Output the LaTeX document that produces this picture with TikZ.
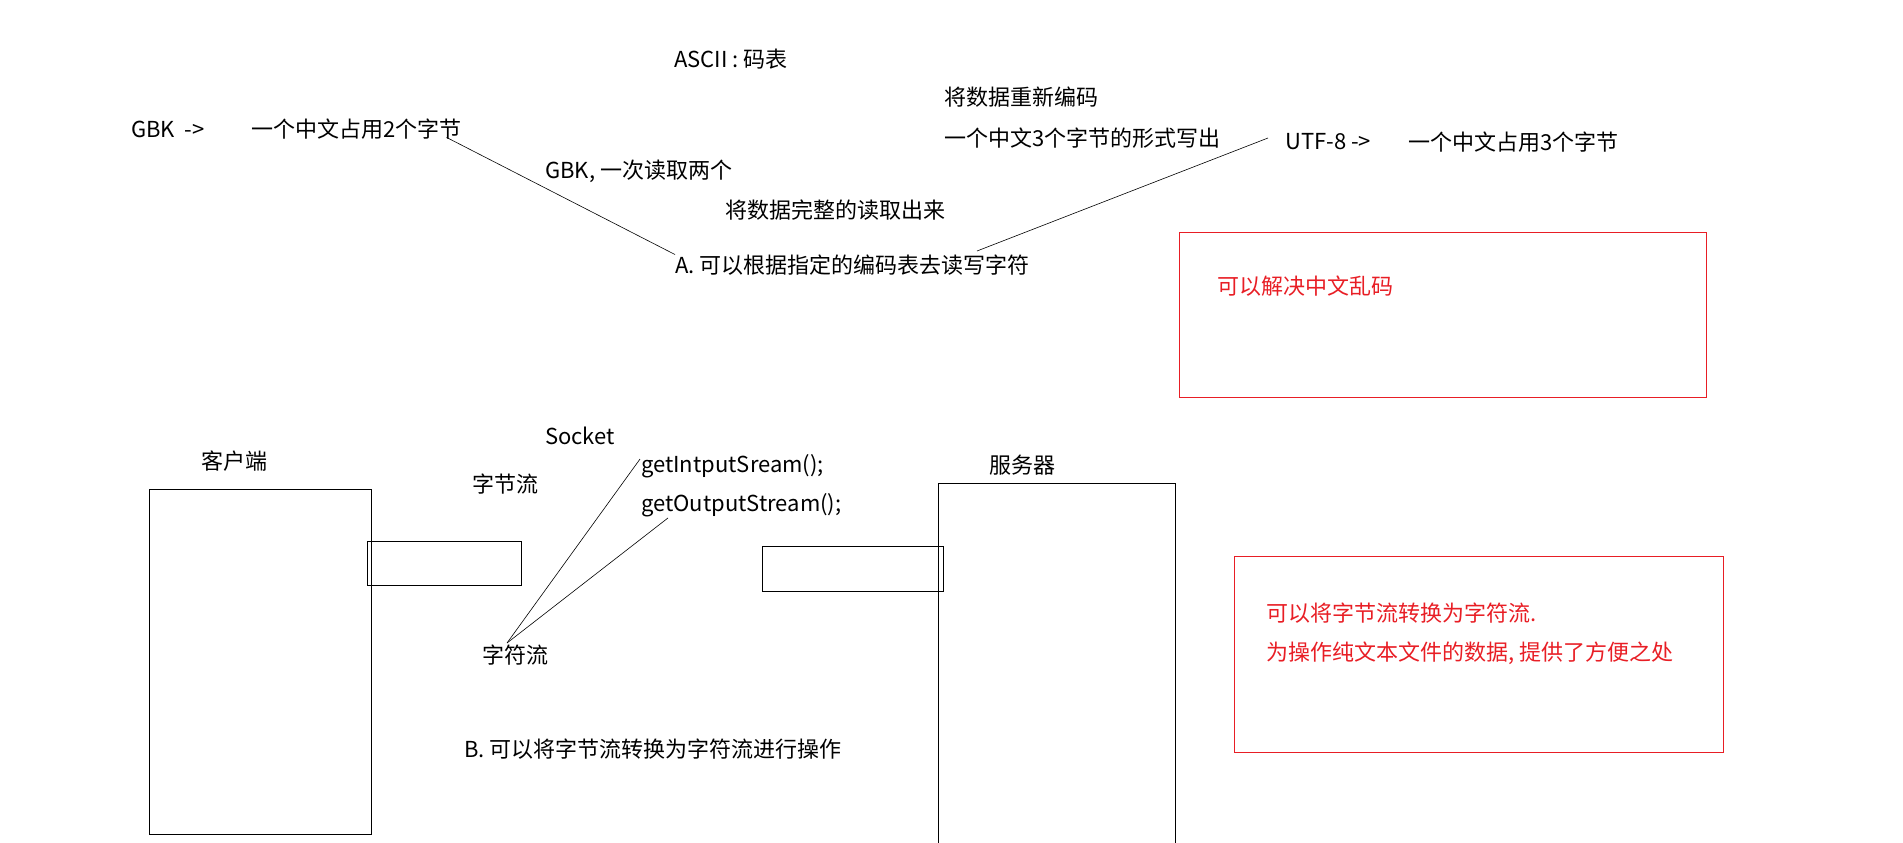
\documentclass[tikz,border=0pt]{standalone}
\usepackage{fontspec}
\usepackage{xcolor}
\usepackage{tikz}
\usetikzlibrary{positioning, calc}
\newfontfamily\cjk{Noto Sans CJK SC}
\definecolor{cNote}{HTML}{E81E25}
\tikzset{
  txt/.style={anchor=west, inner sep=0pt, font=\cjk\fontsize{22}{26}\selectfont},
  notetxt/.style={txt, text=cNote},
  pcbox/.style={draw=black, line width=1pt},
  notebox/.style={draw=cNote, line width=1pt},
  link/.style={draw=black, line width=0.6pt},
}
\begin{document}
\begin{tikzpicture}[x=1pt, y=-1pt]
  \useasboundingbox (0,0) rectangle (1903,843);

  % top: encoding notes
  \node[txt] (ascii)   at (674,59)  {ASCII : 码表};
  \node[txt] (recode)  at (944,97)  {将数据重新编码};
  \node[txt] (write3)  at (944,138) {一个中文3个字节的形式写出};
  \node[txt] (gbk)     at (131,129) {GBK\ \ ->};
  \node[txt] (gbkcn)   at (251,129) {一个中文占用2个字节};
  \node[txt] (read2)   at (545,171) {GBK, 一次读取两个};
  \node[txt] (readall) at (725,210) {将数据完整的读取出来};
  \node[txt] (readA)   at (675,265) {A. 可以根据指定的编码表去读写字符};
  \node[txt] (utf)     at (1285,142) {UTF-8 ->};
  \node[txt] (utfcn)   at (1408,142) {一个中文占用3个字节};

  \coordinate (aTop) at (977,251);
  \draw[link] ($(gbkcn.south east)+(-15,-2)$) -- (readA.north west);
  \draw[link] (aTop) -- ($(utf.west)+(-17,-4)$);

  % note box 1
  \draw[notebox] (1179,232) rectangle (1706,397);
  \node[notetxt] (note1) at (1217,286) {可以解决中文乱码};

  % bottom: client / server
  \node[txt] (socket)    at (545,436) {Socket};
  \node[txt] (client)    at (201,461) {客户端};
  \node[txt] (bytes)     at (472,484) {字节流};
  \node[txt] (instream)  at (641,466) {getIntputSream();};
  \node[txt] (outstream) at (641,505) {getOutputStream();};
  \node[txt] (server)    at (989,465) {服务器};
  \node[txt] (chars)     at (482,655) {字符流};
  \node[txt] (readB)     at (464,749) {B. 可以将字节流转换为字符流进行操作};

  \draw[pcbox] (149,489) rectangle (371,834);
  \draw[pcbox] (367,541) rectangle (521,585);
  \draw[pcbox] (938,483) -- (938,850) (1175,850) -- (1175,483) -- (938,483);
  \draw[pcbox] (762,546) rectangle (943,591);

  \coordinate (charTop) at (507,643);
  \draw[link] (charTop) -- ($(instream.north west)+(-1,5)$);
  \draw[link] (charTop) -- ($(outstream.south west)+(27,1)$);

  % note box 2
  \draw[notebox] (1234,556) rectangle (1723,752);
  \node[notetxt] (note2) at (1266,613) {可以将字节流转换为字符流.};
  \node[notetxt] (note3) at (1266,653) {为操作纯文本文件的数据, 提供了方便之处};
\end{tikzpicture}
\end{document}
